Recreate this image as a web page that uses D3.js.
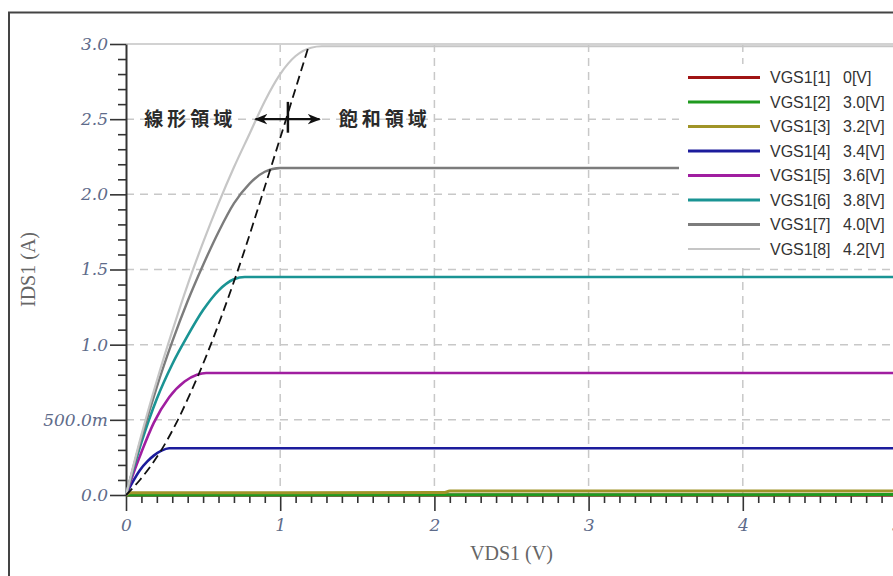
<!DOCTYPE html>
<html>
<head>
<meta charset="utf-8">
<script src="https://cdn.jsdelivr.net/npm/d3@7"></script>
<style>
  body { margin: 0; background: #fff; }
  svg { display: block; }
</style>
</head>
<body>
<svg width="893" height="576"></svg>
<script>
// legend texts
const seriesNames = ['VGS1[1]', 'VGS1[2]', 'VGS1[3]', 'VGS1[4]', 'VGS1[5]', 'VGS1[6]', 'VGS1[7]', 'VGS1[8]'];
const seriesVgs = ['0[V]', '3.0[V]', '3.2[V]', '3.4[V]', '3.6[V]', '3.8[V]', '4.0[V]', '4.2[V]'];

// IDS (A) vs VDS (V)
const ids_0v0 = [[0, 0], [5, 0]];
const ids_3v0 = [[0, 0], [5, 0.003]];
const ids_3v2 = [[0, 0], [0.03, 0.015], [2.06, 0.016], [2.1, 0.027], [5, 0.027]];
const ids_3v4 = [[0, 0], [0.04, 0.08], [0.09, 0.165], [0.14, 0.225], [0.18, 0.262], [0.23, 0.295], [0.28, 0.311], [5, 0.311]];
const ids_3v6 = [[0, 0], [0.05, 0.15], [0.1, 0.285], [0.18, 0.48], [0.28, 0.65], [0.38, 0.755], [0.46, 0.8], [0.52, 0.812], [5, 0.812]];
const ids_3v8 = [[0, 0], [0.1, 0.35], [0.2, 0.64], [0.3, 0.87], [0.4, 1.06], [0.5, 1.23], [0.6, 1.36], [0.7, 1.435], [0.77, 1.45], [5, 1.45]];
const ids_4v0 = [[0, 0], [0.1, 0.38], [0.2, 0.72], [0.3, 1.02], [0.4, 1.29], [0.5, 1.53], [0.6, 1.75], [0.7, 1.94], [0.8, 2.07], [0.9, 2.15], [1.0, 2.175], [5, 2.175]];
const ids_4v2 = [[0, 0], [0.1, 0.4], [0.2, 0.76], [0.3, 1.09], [0.4, 1.4], [0.5, 1.68], [0.6, 1.94], [0.7, 2.18], [0.8, 2.4], [0.9, 2.62], [1.0, 2.8], [1.1, 2.92], [1.2, 2.975], [1.27, 2.985], [5, 2.985]];

// boundary between linear and saturation regions (dashed)
const boundary = [[0, 0], [0.09, 0.1], [0.23, 0.3], [0.47, 0.8], [0.707, 1.44], [0.934, 2.16], [1.18, 2.97]];

// ticks
const xMajor = [0, 1, 2, 3, 4, 5];
const yMajor = [0, 0.5, 1.0, 1.5, 2.0, 2.5, 3.0];
const yTickLabels = ['0.0', '500.0m', '1.0', '1.5', '2.0', '2.5', '3.0'];

const allCurves = [ids_0v0, ids_3v0, ids_3v2, ids_3v4, ids_3v6, ids_3v8, ids_4v0, ids_4v2];
const colors = ['#a01414', '#1f9a1f', '#a09428', '#1c1c9c', '#a01ea0', '#1a9494', '#7c7c7c', '#c6c6c6'];
const widths = [3, 3, 3, 2.6, 2.6, 2.6, 2.4, 2.2];

var svg = d3.select("svg");

const xscale = d3.scaleLinear().domain([0, 5]).range([126, 897]);
const yscale = d3.scaleLinear().domain([0, 3]).range([495, 44]);

// outer frame
svg.append('rect')
    .attr('x', 9).attr('y', 12.5)
    .attr('width', 1000).attr('height', 1000)
    .attr('fill', 'none').attr('stroke', '#444').attr('stroke-width', 2);

// grid
svg.append('g').selectAll('line').data(yMajor.filter(d => d > 0 && d < 3))
    .enter().append('line')
    .attr('x1', xscale(0)).attr('x2', 893)
    .attr('y1', d => yscale(d)).attr('y2', d => yscale(d))
    .attr('stroke', '#c8c8c8').attr('stroke-width', 1.5).attr('stroke-dasharray', '8,6');
svg.append('g').selectAll('line').data(xMajor.filter(d => d > 0 && d < 5))
    .enter().append('line')
    .attr('x1', d => xscale(d)).attr('x2', d => xscale(d))
    .attr('y1', yscale(3)).attr('y2', yscale(0))
    .attr('stroke', '#c8c8c8').attr('stroke-width', 1.5).attr('stroke-dasharray', '8,6');

// top border of plot area
svg.append('line')
    .attr('x1', xscale(0)).attr('x2', 893)
    .attr('y1', yscale(3)).attr('y2', yscale(3))
    .attr('stroke', '#d2d2d2').attr('stroke-width', 2);

// axes
const styleAxis = g => {
    g.selectAll('.domain').attr('stroke', '#333').attr('stroke-width', 2);
    g.selectAll('.tick line').attr('stroke', '#333').attr('stroke-width', 1.6);
    g.selectAll('text')
        .attr('fill', '#5e6b8a')
        .attr('font-family', 'DejaVu Serif')
        .attr('font-style', 'italic')
        .attr('font-size', 17);
};

const yMinor = d3.range(1, 30).map(d => d / 10).filter(d => Math.round(d * 10) % 5 != 0);
const xMinor = d3.range(1, 50).map(d => d / 10).filter(d => Math.round(d * 10) % 10 != 0);

svg.append('g')
    .attr('transform', `translate(${xscale(0)},0)`)
    .call(d3.axisLeft(yscale).tickValues(yMinor).tickSize(8).tickFormat(''))
    .call(g => g.select('.domain').remove())
    .call(styleAxis);
svg.append('g')
    .attr('transform', `translate(${xscale(0)},0)`)
    .call(d3.axisLeft(yscale).tickValues(yMajor).tickSize(16).tickSizeOuter(0).tickPadding(2)
        .tickFormat((d, i) => yTickLabels[i]))
    .call(styleAxis);

svg.append('g')
    .attr('transform', `translate(0,${yscale(0)})`)
    .call(d3.axisBottom(xscale).tickValues(xMinor).tickSize(8).tickFormat(''))
    .call(g => g.select('.domain').remove())
    .call(styleAxis);
svg.append('g')
    .attr('transform', `translate(0,${yscale(0)})`)
    .call(d3.axisBottom(xscale).tickValues(xMajor).tickSize(16).tickSizeOuter(0).tickPadding(8)
        .tickFormat(d3.format('d')))
    .call(styleAxis);

// axis titles
svg.append('text')
    .attr('x', xscale(2.5)).attr('y', 560)
    .attr('text-anchor', 'middle')
    .attr('font-family', 'Liberation Serif').attr('font-size', 20).attr('fill', '#666')
    .text('VDS1 (V)');
svg.append('text')
    .attr('transform', `translate(35,${yscale(1.5)}) rotate(-90)`)
    .attr('text-anchor', 'middle')
    .attr('font-family', 'Liberation Serif').attr('font-size', 20).attr('fill', '#666')
    .text('IDS1 (A)');

// curves
const line = d3.line()
    .x(d => xscale(d[0]))
    .y(d => yscale(d[1]))
    .curve(d3.curveMonotoneX);

svg.append('g').selectAll('path').data(allCurves)
    .enter().append('path')
    .attr('d', line)
    .attr('fill', 'none')
    .attr('stroke', (d, i) => colors[i])
    .attr('stroke-width', (d, i) => widths[i])
    .attr('stroke-linejoin', 'round');

svg.append('path')
    .datum(boundary)
    .attr('d', line)
    .attr('fill', 'none')
    .attr('stroke', '#111')
    .attr('stroke-width', 1.8)
    .attr('stroke-dasharray', '9,5');

// annotation: region arrow
svg.append('defs').append('marker')
    .attr('id', 'head')
    .attr('viewBox', '0 0 10 10')
    .attr('refX', 9).attr('refY', 5)
    .attr('markerWidth', 6).attr('markerHeight', 6)
    .attr('orient', 'auto-start-reverse')
    .append('path')
    .attr('d', 'M0,1 L10,5 L0,9 L3,5 Z')
    .attr('fill', '#111');

svg.append('line')
    .attr('x1', xscale(0.84)).attr('x2', xscale(1.255))
    .attr('y1', yscale(2.5)).attr('y2', yscale(2.5))
    .attr('stroke', '#111').attr('stroke-width', 2.2)
    .attr('marker-start', 'url(#head)').attr('marker-end', 'url(#head)');
svg.append('line')
    .attr('x1', xscale(1.05)).attr('x2', xscale(1.05))
    .attr('y1', yscale(2.615)).attr('y2', yscale(2.41))
    .attr('stroke', '#111').attr('stroke-width', 2.5);

svg.append('text')
    .attr('x', xscale(0.715)).attr('y', yscale(2.5))
    .attr('dy', '0.35em')
    .attr('text-anchor', 'end')
    .attr('font-family', 'Noto Sans CJK JP').attr('font-weight', 700)
    .attr('font-size', 19).attr('letter-spacing', 4).attr('fill', '#2a2a2a')
    .text('線形領域');
svg.append('text')
    .attr('x', xscale(1.38)).attr('y', yscale(2.5))
    .attr('dy', '0.35em')
    .attr('font-family', 'Noto Sans CJK JP').attr('font-weight', 700)
    .attr('font-size', 19).attr('letter-spacing', 4).attr('fill', '#2a2a2a')
    .text('飽和領域');

// legend
const legend = svg.append('g');
legend.append('rect')
    .attr('x', 679).attr('y', 64)
    .attr('width', 230).attr('height', 198)
    .attr('fill', '#fff');

const rows = legend.selectAll('g').data(seriesNames)
    .enter().append('g')
    .attr('transform', (d, i) => `translate(0,${77.5 + i * 24.5})`);
rows.append('line')
    .attr('x1', 688).attr('x2', 760)
    .attr('stroke', (d, i) => colors[i])
    .attr('stroke-width', (d, i) => (i == 7 ? 2.2 : 3));
rows.append('text')
    .attr('x', 770).attr('dy', '0.36em')
    .attr('font-family', 'Liberation Sans').attr('font-size', 16).attr('fill', '#333')
    .text(d => d);
rows.append('text')
    .attr('x', 843).attr('dy', '0.36em')
    .attr('font-family', 'Liberation Sans').attr('font-size', 16).attr('fill', '#333')
    .text((d, i) => seriesVgs[i]);
</script>
</body>
</html>
